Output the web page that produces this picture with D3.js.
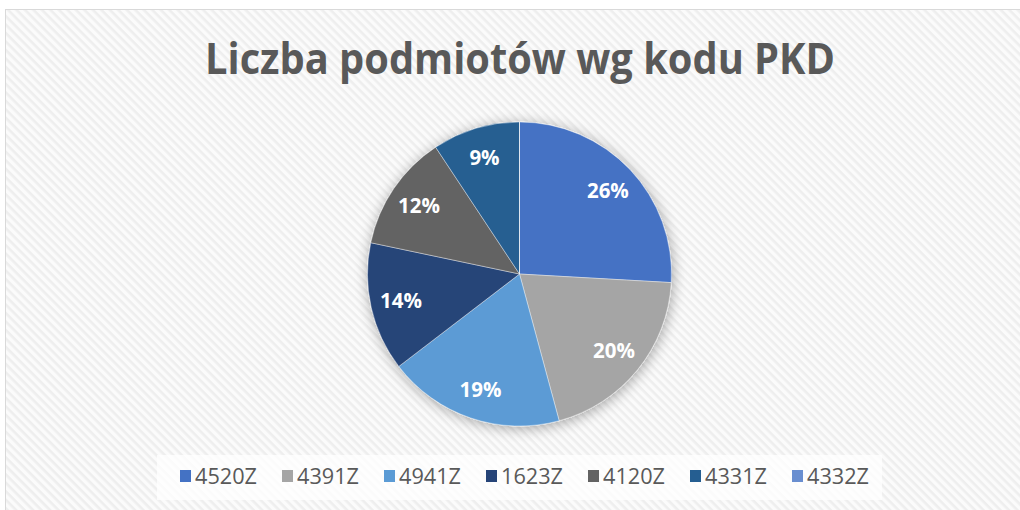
<!DOCTYPE html>
<html>
<head>
<meta charset="utf-8">
<script src="https://cdn.jsdelivr.net/npm/d3@7"></script>
<style>
  html, body { margin: 0; padding: 0; background: #fff; }
  svg { display: block; }
</style>
</head>
<body>
<div id="chart"></div>
<script>
// data (share of entities, %)
var codes = ["4520Z", "4391Z", "4941Z", "1623Z", "4120Z", "4331Z", "4332Z"];
var shares = [25.9, 19.9, 18.8, 13.7, 12.4, 9.3, 0];
var colors = ["#4472C4", "#A5A5A5", "#5B9BD5", "#264478", "#636363", "#255E91", "#698ED0"];
var title = "Liczba podmiotów wg kodu PKD";

var width = 1020, height = 510;

var svg = d3.select("#chart").append("svg")
    .attr("width", width)
    .attr("height", height);

var defs = svg.append("defs");

// diagonal stripes of the chart area
var pat = defs.append("pattern")
    .attr("id", "stripes")
    .attr("patternUnits", "userSpaceOnUse")
    .attr("width", 6)
    .attr("height", 6)
    .attr("patternTransform", "rotate(45)");
pat.append("rect").attr("width", 6).attr("height", 6).attr("fill", "#fbfbfb");
pat.append("rect").attr("width", 6).attr("height", 2.6).attr("fill", "#eeeeee");

// soft shadow around the pie
var f = defs.append("filter").attr("id", "glow")
    .attr("x", "-20%").attr("y", "-20%").attr("width", "140%").attr("height", "140%");
f.append("feGaussianBlur").attr("in", "SourceAlpha").attr("stdDeviation", 7);
f.append("feOffset").attr("dx", 1).attr("dy", 2).attr("result", "blur");
f.append("feComponentTransfer").append("feFuncA").attr("type", "linear").attr("slope", 0.35);
var m = f.append("feMerge");
m.append("feMergeNode");
m.append("feMergeNode").attr("in", "SourceGraphic");

svg.append("rect")
    .attr("x", 5.5).attr("y", 9.5)
    .attr("width", 1030).attr("height", 520)
    .attr("fill", "url(#stripes)")
    .attr("stroke", "#d9d9d9")
    .attr("stroke-width", 1);

// title
svg.append("text")
    .attr("x", 520)
    .attr("y", 74)
    .attr("text-anchor", "middle")
    .attr("font-family", "'Open Sans', sans-serif")
    .attr("font-weight", "bold")
    .attr("font-size", 43)
    .attr("fill", "#595959")
    .attr("textLength", 630)
    .attr("lengthAdjust", "spacingAndGlyphs")
    .text(title);

// pie
var cx = 519.5, cy = 274, r = 152;

var data = codes.map(function(c, i) { return {code: c, value: shares[i], color: colors[i]}; });
var total = d3.sum(shares);

var pie = d3.pie().sort(null).value(function(d) { return d.value; });
var arc = d3.arc().innerRadius(0).outerRadius(r);
var labelArc = d3.arc().innerRadius(r * 0.8).outerRadius(r * 0.8);

var g = svg.append("g").attr("transform", "translate(" + cx + "," + cy + ")");

var arcs = pie(data);

g.append("g")
    .attr("filter", "url(#glow)")
  .selectAll("path")
  .data(arcs)
  .enter().append("path")
    .attr("d", arc)
    .attr("fill", function(d) { return d.data.color; })
    .attr("stroke", "#fff")
    .attr("stroke-width", 0.4);

g.append("g")
  .selectAll("text")
  .data(arcs.filter(function(d) { return d.data.value > 0; }))
  .enter().append("text")
    .attr("transform", function(d) { return "translate(" + labelArc.centroid(d) + ")"; })
    .attr("dy", "0.36em")
    .attr("text-anchor", "middle")
    .attr("font-family", "'Open Sans', sans-serif")
    .attr("font-weight", "bold")
    .attr("font-size", 20.5)
    .attr("fill", "#fff")
    .text(function(d) { return Math.round(d.data.value / total * 100) + "%"; });

// legend
svg.append("rect")
    .attr("x", 157).attr("y", 455)
    .attr("width", 725).attr("height", 45)
    .attr("fill", "#fff")
    .attr("opacity", 0.75);

var lx = d3.scalePoint().domain(codes).range([186, 798]);

var item = svg.append("g")
  .selectAll("g")
  .data(data)
  .enter().append("g")
    .attr("transform", function(d) { return "translate(" + lx(d.code) + ",476)"; });

item.append("rect")
    .attr("x", -6).attr("y", -6)
    .attr("width", 11).attr("height", 12)
    .attr("fill", function(d) { return d.color; });

item.append("text")
    .attr("x", 9)
    .attr("dy", "0.36em")
    .attr("font-family", "'Open Sans', sans-serif")
    .attr("font-size", 22)
    .attr("fill", "#595959")
    .attr("textLength", 62)
    .attr("lengthAdjust", "spacingAndGlyphs")
    .text(function(d) { return d.code; });
</script>
</body>
</html>
